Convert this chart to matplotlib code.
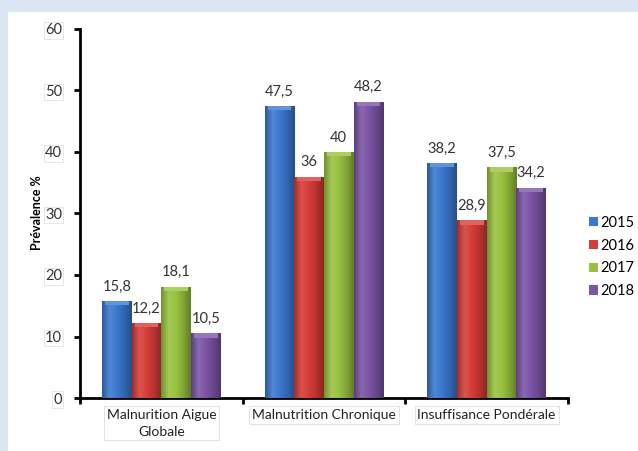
import numpy as np
import matplotlib
matplotlib.use("Agg")
import matplotlib.pyplot as plt
from matplotlib.patches import Rectangle
from matplotlib.colors import LinearSegmentedColormap, to_rgb

plt.rcParams['font.family'] = ['Lato', 'DejaVu Sans']

categories = ["Malnurition Aigue\nGlobale", "Malnutrition Chronique", "Insuffisance Pondérale"]
years = ["2015", "2016", "2017", "2018"]
values = {
    "2015": [15.8, 47.5, 38.2],
    "2016": [12.2, 36.0, 28.9],
    "2017": [18.1, 40.0, 37.5],
    "2018": [10.5, 48.2, 34.2],
}
colors = ["#3a78cf", "#d63c38", "#98c23f", "#7b54a6"]
y_ticks = [0, 10, 20, 30, 40, 50, 60]


def fmt(v):
    s = f"{v:.1f}"
    if s.endswith(".0"):
        s = s[:-2]
    return s.replace(".", ",")


def shade(c, f):
    r, g, b = to_rgb(c)
    if f >= 0:
        return (r + (1 - r) * f, g + (1 - g) * f, b + (1 - b) * f)
    f = -f
    return (r * (1 - f), g * (1 - f), b * (1 - f))


fig = plt.figure(figsize=(6.38, 4.51), dpi=100)
fig.patch.set_facecolor("#dce6f2")
fig.patches.append(Rectangle((8 / 638, 0), 1, 1 - 12 / 451, transform=fig.transFigure,
                             facecolor="white", edgecolor="none", zorder=-5))

ax = fig.add_axes([80 / 638, 1 - 398 / 451, (568 - 80) / 638, (398 - 29) / 451])
ax.set_facecolor("none")
ax.set_xlim(0, 3)
ax.set_ylim(0, 60)

bw = 0.182
x = np.arange(len(categories)) + 0.5
grad = np.linspace(0, 1, 64)

for i, yr in enumerate(years):
    c = colors[i]
    cmap = LinearSegmentedColormap.from_list(
        yr, [shade(c, -0.25), shade(c, 0.12), c, shade(c, -0.15), shade(c, -0.35)])
    offs = (i - 1.5) * bw
    bars = ax.bar(x + offs, values[yr], bw, color=c, edgecolor="none", zorder=2, label=yr)
    for b, v in zip(bars, values[yr]):
        x0, w, h = b.get_x(), b.get_width(), b.get_height()
        im = ax.imshow(grad[None, :], cmap=cmap, aspect="auto",
                       extent=(x0, x0 + w, 0, h), zorder=3, interpolation="bilinear")
        im.set_clip_path(b)
        ax.add_patch(Rectangle((x0 + w * 0.1, h - 0.7), w * 0.8, 0.7,
                               facecolor=shade(c, 0.2), edgecolor="none", zorder=4))
        ax.text(x0 + w / 2, h + 1.2, fmt(v), ha="center", va="bottom",
                fontsize=10.5, color="#333333", zorder=5)

ax.set_xlim(0, 3)
ax.set_ylim(0, 60)

for s in ["top", "right"]:
    ax.spines[s].set_visible(False)
for s in ["left", "bottom"]:
    ax.spines[s].set_linewidth(2)
    ax.spines[s].set_color("black")

ax.set_yticks(y_ticks)
ax.set_yticklabels([str(t) for t in y_ticks], fontsize=10.5, color="#333333")
for t in ax.get_yticklabels():
    t.set_bbox(dict(boxstyle="square,pad=0.08", facecolor="white", edgecolor="#dddddd", linewidth=0.5))
ax.tick_params(axis="y", direction="out", length=4, width=2, pad=9)

ax.set_xticks([0, 1, 2, 3])
ax.set_xticklabels([])
ax.set_xticks(x, minor=True)
ax.set_xticklabels(categories, minor=True, fontsize=10, color="#222222", linespacing=1.45)
ax.tick_params(axis="x", which="major", direction="out", length=4, width=2)
ax.tick_params(axis="x", which="minor", length=0, pad=8)
for t in ax.get_xticklabels(minor=True):
    t.set_bbox(dict(boxstyle="square,pad=0.2", facecolor="white", edgecolor="#dddddd", linewidth=0.6))

fig.text(37 / 638, 1 - 213 / 451, "Prévalence %", rotation=90, ha="center", va="center",
         fontsize=9, fontweight="bold", color="black")

handles, labels = ax.get_legend_handles_labels()
fig.legend(handles, labels, loc="upper left", bbox_to_anchor=(589 / 638, 1 - 216 / 451),
           frameon=False, fontsize=10.5, handlelength=0.6, handleheight=0.6,
           handletextpad=0.2, labelspacing=0.6, borderaxespad=0, borderpad=0)

fig.savefig("out.png", dpi=100, facecolor=fig.get_facecolor())
